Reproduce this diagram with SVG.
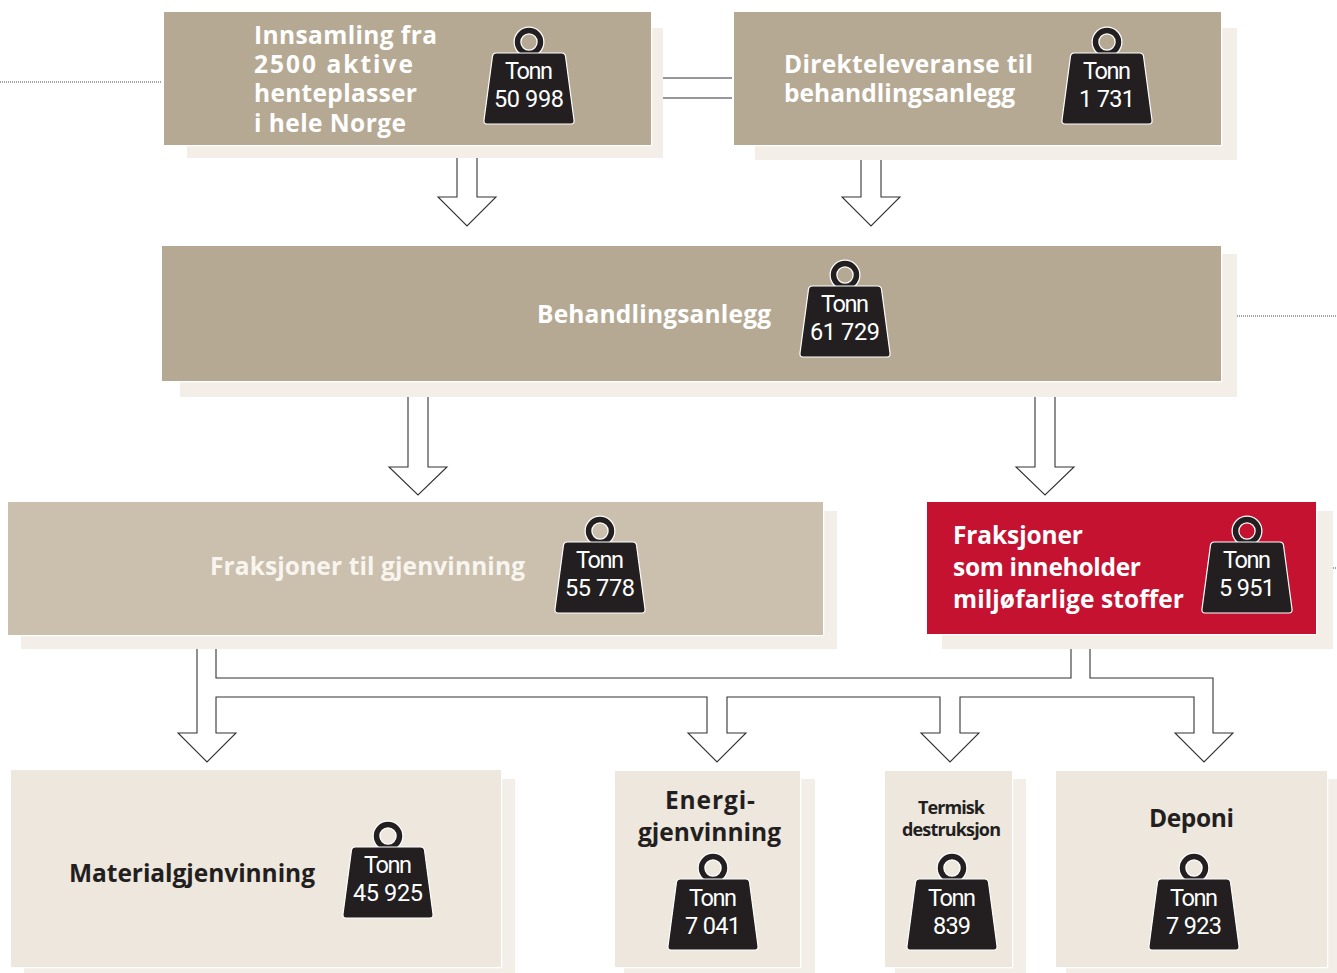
<svg xmlns="http://www.w3.org/2000/svg" width="1337" height="973" viewBox="0 0 1337 973">
<style>
.s{fill:#f3eee7}
.k,.l,.r,.p{stroke:#fff;stroke-width:2.5;paint-order:stroke}
.k{fill:#b6a993}
.l{fill:#cbbfae}
.r{fill:#c41230}
.p{fill:#ede7de}
.c{fill:#fff;stroke:#333;stroke-width:1.1;stroke-linejoin:miter}
.d{fill:none;stroke:#444;stroke-width:1;stroke-dasharray:1 1}
.t{font-family:"Open Sans",Roboto,"Liberation Sans",sans-serif;font-weight:700;font-size:24.5px;fill:#fff}
.lt{fill:#f8f5ef}
.dk{fill:#231f20}
.w{font-family:Roboto,"Liberation Sans",sans-serif;font-weight:400;font-size:23.5px;fill:#fff;text-anchor:middle}
</style>
<defs>
<g id="wt">
<circle cx="0" cy="1" r="11.500" fill="none" stroke="#fff" stroke-width="8"/>
<circle cx="0" cy="1" r="11.500" fill="none" stroke="#231f20" stroke-width="5.500"/>
<path d="M-33 12H33Q36 12 36.500 15L45 79Q45.500 83 42 83H-42Q-45.500 83 -45 79L-36.500 15Q-36 12 -33 12Z" fill="#231f20" stroke="#fff" stroke-width="1.2"/>
</g>
</defs>
<g id="connectors">
<path class="d" d="M0 82H162M1237 316H1337M1333 568H1337"/>
<path class="c" d="M663 78H732M663 98H732"/>
<path class="c" d="M457 158V197H438L467 226L496 197H477V158"/>
<path class="c" d="M861 160V197H842L871 226L900 197H881V160"/>
<path class="c" d="M408 397V467H389L418 495L447 467H428V397"/>
<path class="c" d="M1035 397V467H1016L1045 495L1074 467H1055V397"/>
<path class="c" d="M197 649V733H178L207 762L236 733H216V697H707V733H688L717 762L746 733H727V697H940V733H921L950 762L979 733H960V697H1194V733H1175L1204 762L1233 733H1213V678H1090V649"/>
<path class="c" d="M216 649V678H1071V649" style="fill:none"/>
</g>
<g id="node-innsamling">
<rect class="s" x="187" y="28" width="476" height="130"/>
<rect class="k" x="164" y="12" width="487" height="133"/>
<text class="t" x="254" y="44" textLength="183">Innsamling fra</text>
<text class="t" x="254" y="73" textLength="159">2500 aktive</text>
<text class="t" x="254" y="102" textLength="163">henteplasser</text>
<text class="t" x="254" y="132" textLength="152">i hele Norge</text>
<use href="#wt" x="529" y="41"/>
<text class="w" x="529" y="79" textLength="48">Tonn</text>
<text class="w" x="529" y="107" textLength="70">50 998</text>
</g>
<g id="node-direkte">
<rect class="s" x="755" y="28" width="482" height="132"/>
<rect class="k" x="734" y="12" width="487" height="133"/>
<text class="t" x="784" y="73" textLength="249">Direkteleveranse til</text>
<text class="t" x="784" y="102" textLength="231">behandlingsanlegg</text>
<use href="#wt" x="1107" y="41"/>
<text class="w" x="1107" y="79" textLength="48">Tonn</text>
<text class="w" x="1107" y="107" textLength="56">1 731</text>
</g>
<g id="node-behandling">
<rect class="s" x="180" y="254" width="1057" height="143"/>
<rect class="k" x="162" y="246" width="1059" height="135"/>
<text class="t" x="537" y="323" textLength="234">Behandlingsanlegg</text>
<use href="#wt" x="845" y="274"/>
<text class="w" x="845" y="312" textLength="48">Tonn</text>
<text class="w" x="845" y="340" textLength="70">61 729</text>
</g>
<g id="node-gjenvinning">
<rect class="s" x="21" y="511" width="816" height="138"/>
<rect class="l" x="8" y="502" width="815" height="133"/>
<text class="t lt" x="210" y="575" textLength="315">Fraksjoner til gjenvinning</text>
<use href="#wt" x="600" y="530"/>
<text class="w" x="600" y="568" textLength="48">Tonn</text>
<text class="w" x="600" y="596" textLength="70">55 778</text>
</g>
<g id="node-miljo">
<rect class="s" x="942" y="511" width="391" height="138"/>
<rect class="r" x="927" y="502" width="389" height="132"/>
<text class="t" x="953" y="544" textLength="130">Fraksjoner</text>
<text class="t" x="953" y="576" textLength="188">som inneholder</text>
<text class="t" x="953" y="608" textLength="231">miljøfarlige stoffer</text>
<use href="#wt" x="1247" y="530"/>
<text class="w" x="1247" y="568" textLength="48">Tonn</text>
<text class="w" x="1247" y="596" textLength="56">5 951</text>
</g>
<g id="node-material">
<rect class="s" x="24" y="779" width="491" height="194"/>
<rect class="p" x="11" y="770" width="490" height="197"/>
<text class="t dk" x="69" y="882" textLength="246">Materialgjenvinning</text>
<use href="#wt" x="388" y="835"/>
<text class="w" x="388" y="873" textLength="48">Tonn</text>
<text class="w" x="388" y="901" textLength="70">45 925</text>
</g>
<g id="node-energi">
<rect class="s" x="624" y="779" width="191" height="194"/>
<rect class="p" x="615" y="771" width="185" height="196"/>
<text class="t dk" x="665" y="809" textLength="90">Energi-</text>
<text class="t dk" x="638" y="841" textLength="143">gjenvinning</text>
<use href="#wt" x="713" y="867"/>
<text class="w" x="713" y="906" textLength="48">Tonn</text>
<text class="w" x="713" y="934" textLength="56">7 041</text>
</g>
<g id="node-termisk">
<rect class="s" x="895" y="779" width="131" height="194"/>
<rect class="p" x="885" y="771" width="127" height="196"/>
<text class="t dk" style="font-size:18px" x="918" y="814" textLength="67">Termisk</text>
<text class="t dk" style="font-size:18px" x="902" y="836" textLength="99">destruksjon</text>
<use href="#wt" x="952" y="867"/>
<text class="w" x="952" y="906" textLength="48">Tonn</text>
<text class="w" x="952" y="934" textLength="38">839</text>
</g>
<g id="node-deponi">
<rect class="s" x="1066" y="779" width="271" height="194"/>
<rect class="p" x="1056" y="771" width="271" height="196"/>
<text class="t dk" x="1149" y="827" textLength="85">Deponi</text>
<use href="#wt" x="1194" y="867"/>
<text class="w" x="1194" y="906" textLength="48">Tonn</text>
<text class="w" x="1194" y="934" textLength="56">7 923</text>
</g>
</svg>
